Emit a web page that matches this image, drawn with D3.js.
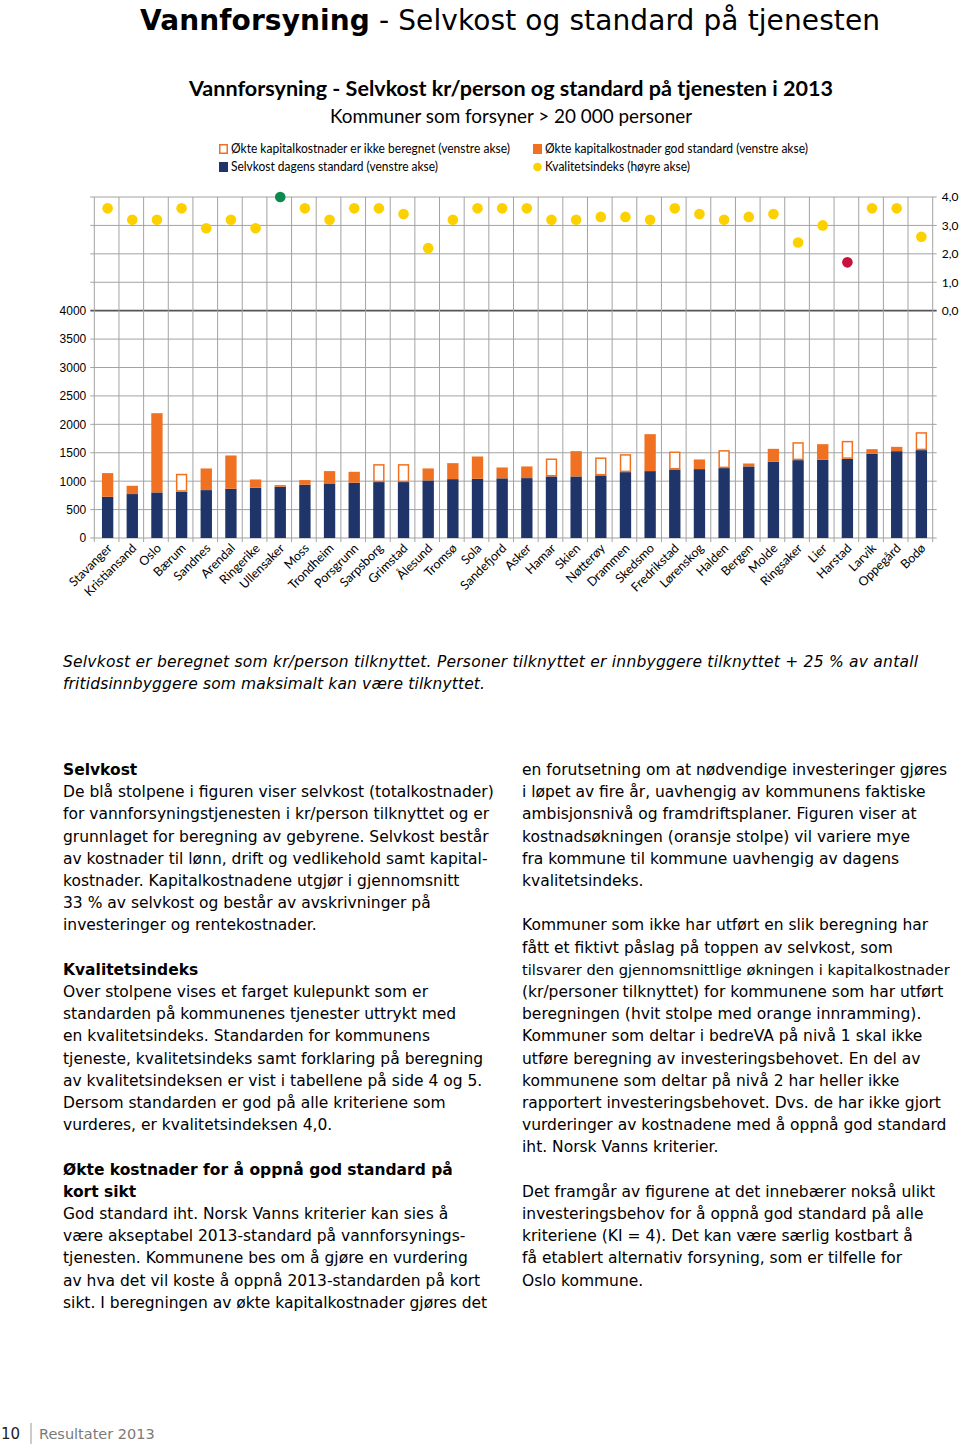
<!DOCTYPE html>
<html><head><meta charset="utf-8">
<script src="https://cdn.jsdelivr.net/npm/d3@7"></script>
<style>
body{margin:0;background:#fff;}
svg{display:block;}
</style></head><body>
<svg id="page" width="960" height="1445"></svg>
<script>
const categories = ["Stavanger","Kristiansand","Oslo","Bærum","Sandnes","Arendal","Ringerike","Ullensaker","Moss","Trondheim","Porsgrunn","Sarpsborg","Grimstad","Ålesund","Tromsø","Sola","Sandefjord","Asker","Hamar","Skien","Nøtterøy","Drammen","Skedsmo","Fredrikstad","Lørenskog","Halden","Bergen","Molde","Ringsaker","Lier","Harstad","Larvik","Oppegård","Bodø"];
const selvkost = [726,773,802,814,843,867,884,902,937,960,972,984,984,1013,1036,1042,1050,1054,1083,1083,1101,1159,1177,1206,1212,1230,1259,1341,1370,1376,1393,1481,1528,1546];
const okteGod = [416,146,1394,0,381,585,146,29,82,217,193,0,0,211,281,392,191,205,0,445,0,0,650,0,170,0,52,228,0,275,0,82,76,0];
const okteIkkeBeregnet = [0,0,0,316,0,0,0,0,0,0,0,316,316,0,0,0,0,0,316,0,316,316,0,316,0,316,0,0,316,0,316,0,0,316];
const kvalitetsindeks = [3.6,3.2,3.2,3.6,2.9,3.2,2.9,4.0,3.6,3.2,3.6,3.6,3.4,2.2,3.2,3.6,3.6,3.6,3.2,3.2,3.3,3.3,3.2,3.6,3.4,3.2,3.3,3.4,2.4,3.0,1.7,3.6,3.6,2.6];
const leftTickLabels = [0,500,1000,1500,2000,2500,3000,3500,4000];
const rightTickLabels = [0,1,2,3,4];
const seriesKeys = ["selvkost","okteGod","okteIkkeBeregnet"];
const legendLabels = ["Økte kapitalkostnader er ikke beregnet (venstre akse)","Økte kapitalkostnader god standard (venstre akse)","Selvkost dagens standard (venstre akse)","Kvalitetsindeks (høyre akse)"];

const leftText = [
 ["b","Selvkost"],
 ["","De blå stolpene i figuren viser selvkost (totalkostnader)"],
 ["","for vannforsyningstjenesten i kr/person tilknyttet og er"],
 ["","grunnlaget for beregning av gebyrene. Selvkost består"],
 ["","av kostnader til lønn, drift og vedlikehold samt kapital-"],
 ["","kostnader. Kapitalkostnadene utgjør i gjennomsnitt"],
 ["","33 % av selvkost og består av avskrivninger på"],
 ["","investeringer og rentekostnader."],
 ["",""],
 ["b","Kvalitetsindeks"],
 ["","Over stolpene vises et farget kulepunkt som er"],
 ["","standarden på kommunenes tjenester uttrykt med"],
 ["","en kvalitetsindeks. Standarden for kommunens"],
 ["","tjeneste, kvalitetsindeks samt forklaring på beregning"],
 ["","av kvalitetsindeksen er vist i tabellene på side 4 og 5."],
 ["","Dersom standarden er god på alle kriteriene som"],
 ["","vurderes, er kvalitetsindeksen 4,0."],
 ["",""],
 ["b","Økte kostnader for å oppnå god standard på"],
 ["b","kort sikt"],
 ["","God standard iht. Norsk Vanns kriterier kan sies å"],
 ["","være akseptabel 2013-standard på  vannforsynings-"],
 ["","tjenesten. Kommunene bes om å gjøre en vurdering"],
 ["","av hva det vil koste å oppnå 2013-standarden på kort"],
 ["","sikt. I beregningen av økte kapitalkostnader gjøres det"]
];
const rightText = [
 "en forutsetning om at nødvendige investeringer gjøres",
 "i løpet av fire år, uavhengig av kommunens faktiske",
 "ambisjonsnivå og framdriftsplaner. Figuren viser at",
 "kostnadsøkningen (oransje stolpe) vil variere mye",
 "fra kommune til kommune uavhengig av dagens",
 "kvalitetsindeks.",
 "",
 "Kommuner som ikke har utført en slik beregning har",
 "fått et fiktivt påslag på toppen av selvkost, som",
 "tilsvarer den gjennomsnittlige økningen i kapitalkostnader",
 "(kr/personer tilknyttet) for kommunene som har utført",
 "beregningen (hvit stolpe med orange innramming).",
 "Kommuner som deltar i bedreVA på nivå 1 skal ikke",
 "utføre beregning av investeringsbehovet. En del av",
 "kommunene som deltar på nivå 2 har heller ikke",
 "rapportert investeringsbehovet. Dvs. de har ikke gjort",
 "vurderinger av kostnadene med å oppnå god standard",
 "iht. Norsk Vanns kriterier.",
 "",
 "Det framgår av figurene at det innebærer nokså ulikt",
 "investeringsbehov for å oppnå god standard på alle",
 "kriteriene (KI = 4). Det kan være særlig kostbart å",
 "få etablert alternativ forsyning, som er tilfelle for",
 "Oslo kommune."
];

const NAVY = "#1f3468", ORANGE = "#f07122", GRID = "#a3a3a3";
const svg = d3.select("#page");
svg.append("rect").attr("width",960).attr("height",1445).attr("fill","#fff");

// Page header
const hdr = svg.append("text").attr("x",140).attr("y",30)
  .attr("font-family","DejaVu Sans").attr("font-size",28).attr("fill","#000")
  .attr("textLength",740).attr("lengthAdjust","spacing");
hdr.append("tspan").attr("font-weight","bold").text("Vannforsyning");
hdr.append("tspan").text(" - Selvkost og standard på tjenesten");

// Chart title
svg.append("text").attr("x",511).attr("y",96).attr("text-anchor","middle")
  .attr("font-family","Lato").attr("font-weight","bold").attr("font-size",21)
  .attr("textLength",644).attr("lengthAdjust","spacingAndGlyphs")
  .text("Vannforsyning - Selvkost kr/person og standard på tjenesten i 2013");
svg.append("text").attr("x",511).attr("y",123).attr("text-anchor","middle")
  .attr("font-family","Lato").attr("font-size",19)
  .attr("textLength",362).attr("lengthAdjust","spacingAndGlyphs")
  .text("Kommuner som forsyner > 20 000 personer");

// Legend
const lg = svg.append("g").attr("font-family","Lato").attr("font-size",12.5).attr("fill","#000");
const legendItems = [
  {x:219,y:149,type:"hollow",w:279},
  {x:533,y:149,type:"filled",w:263},
  {x:219,y:167,type:"navy",w:207},
  {x:533,y:167,type:"dot",w:145}
];
legendItems.forEach((it,i)=>{
  if(it.type==="dot"){
    lg.append("circle").attr("cx",it.x+4.5).attr("cy",it.y).attr("r",4.3).attr("fill","#fdd000");
  } else if(it.type==="hollow"){
    lg.append("rect").attr("x",it.x+0.75).attr("y",it.y-4.25).attr("width",7.5).attr("height",8.5)
      .attr("fill","#fff").attr("stroke",ORANGE).attr("stroke-width",1.5);
  } else {
    lg.append("rect").attr("x",it.x).attr("y",it.y-5).attr("width",9).attr("height",10)
      .attr("fill",it.type==="filled"?ORANGE:NAVY);
  }
  lg.append("text").attr("x",it.x+12).attr("y",it.y+4.3)
    .attr("textLength",it.w).attr("lengthAdjust","spacingAndGlyphs").text(legendLabels[i]);
});

// Chart
const X0 = 94.3, X1 = 932.7, YT = 197, YB = 538;
const x = d3.scaleBand().domain(categories).range([X0,X1]).padding(0);
const yL = d3.scaleLinear().domain([0,6000]).range([YB,YT]);
const yR = d3.scaleLinear().domain([-8,4]).range([YB,YT]);

const chart = svg.append("g");
// horizontal grid
const gridVals = d3.range(0,6001,500);
chart.append("g").selectAll("line").data(gridVals).join("line")
  .attr("x1",X0-4).attr("x2",X1+4).attr("y1",d=>yL(d)).attr("y2",d=>yL(d))
  .attr("stroke",d=>d===4000?"#555":GRID).attr("stroke-width",d=>d===4000?1.8:1);
// vertical grid
const bounds = categories.map(c=>x(c)).concat([X1]);
chart.append("g").selectAll("line").data(bounds).join("line")
  .attr("x1",d=>d).attr("x2",d=>d).attr("y1",YT).attr("y2",YB+4)
  .attr("stroke",GRID).attr("stroke-width",1);

// Left axis labels
const axL = chart.append("g").attr("transform",`translate(${X0-4},0)`)
  .call(d3.axisLeft(yL).tickValues(leftTickLabels).tickSize(0).tickPadding(4).tickFormat(d3.format("d")));
axL.select(".domain").remove();
axL.selectAll("text").attr("font-family","Liberation Sans").attr("font-size",12).attr("fill","#000");
// Right axis labels
const axR = chart.append("g").attr("transform",`translate(${X1+4},0)`)
  .call(d3.axisRight(yR).tickValues(rightTickLabels).tickSize(0).tickPadding(5)
    .tickFormat(d=>d3.format(".1f")(d).replace(".",",")));
axR.select(".domain").remove();
axR.selectAll("text").attr("font-family","Lato").attr("font-size",12).attr("fill","#000");

// Bars
const rows = categories.map((c,i)=>({cat:c, selvkost:selvkost[i], okteGod:okteGod[i], okteIkkeBeregnet:okteIkkeBeregnet[i]}));
const stacked = d3.stack().keys(seriesKeys)(rows);
const bw = x.bandwidth()*0.46;
const bx = d=> x(d.data.cat)+x.bandwidth()/2 - bw/2 + 1;
chart.append("g").selectAll("rect").data(stacked[0]).join("rect")
  .attr("x",bx).attr("width",bw).attr("y",d=>yL(d[1])).attr("height",d=>yL(d[0])-yL(d[1]))
  .attr("fill",NAVY);
chart.append("g").selectAll("rect").data(stacked[1].filter(d=>d[1]>d[0])).join("rect")
  .attr("x",bx).attr("width",bw).attr("y",d=>yL(d[1])).attr("height",d=>yL(d[0])-yL(d[1]))
  .attr("fill",ORANGE);
chart.append("g").selectAll("rect").data(stacked[2].filter(d=>d[1]>d[0])).join("rect")
  .attr("x",d=>bx(d)+0.75).attr("width",bw-1.5).attr("y",d=>yL(d[1])+0.75).attr("height",d=>yL(d[0])-yL(d[1])-1.5)
  .attr("fill","#fff").attr("stroke",ORANGE).attr("stroke-width",1.5);

// Quality index dots
const dotColor = v => v>=4 ? "#0b8a4b" : (v<2 ? "#c8103c" : "#fdd000");
chart.append("g").selectAll("circle").data(categories).join("circle")
  .attr("cx",c=>x(c)+x.bandwidth()/2+1).attr("cy",(c,i)=>yR(kvalitetsindeks[i]))
  .attr("r",5.3).attr("fill",(c,i)=>dotColor(kvalitetsindeks[i]));

// Category labels
const axB = chart.append("g").attr("transform",`translate(0,${YB})`)
  .call(d3.axisBottom(x).tickSize(0).tickPadding(0));
axB.select(".domain").remove();
axB.selectAll("text").attr("font-family","Lato").attr("font-size",12.5).attr("fill","#000")
  .attr("text-anchor","end").attr("dy",0)
  .attr("transform","translate(6,11) rotate(-45)");

// Caption
const cap = svg.append("g").attr("font-family","DejaVu Sans").attr("font-style","italic").attr("font-size",15.5).attr("fill","#000");
cap.append("text").attr("x",63).attr("y",667).attr("textLength",855).attr("lengthAdjust","spacing")
  .text("Selvkost er beregnet som kr/person tilknyttet. Personer tilknyttet er innbyggere tilknyttet + 25 % av antall");
cap.append("text").attr("x",63).attr("y",689).attr("textLength",422).attr("lengthAdjust","spacing")
  .text("fritidsinnbyggere som maksimalt kan være tilknyttet.");

// Body text
const LH = 22.2, FS = 15.5;
const body = svg.append("g").attr("font-family","DejaVu Sans").attr("font-size",FS).attr("fill","#000");
leftText.forEach((l,i)=>{
  if(!l[1]) return;
  body.append("text").attr("x",63).attr("y",775+i*LH).attr("font-weight",l[0]==="b"?"bold":"normal").text(l[1]);
});
rightText.forEach((l,i)=>{
  if(!l) return;
  const t = body.append("text").attr("x",522).attr("y",775+i*LH).text(l);
  const w = t.node().getComputedTextLength();
  if(w > 428) t.attr("font-size", (FS*428/w).toFixed(2));
});

// Footer
svg.append("text").attr("x",1).attr("y",1439).attr("font-family","DejaVu Sans").attr("font-size",15).attr("fill","#222").text("10");
svg.append("line").attr("x1",31).attr("x2",31).attr("y1",1423).attr("y2",1444).attr("stroke","#999").attr("stroke-width",1);
svg.append("text").attr("x",39).attr("y",1439).attr("font-family","DejaVu Sans").attr("font-size",14.5).attr("fill","#7a7a7a").text("Resultater 2013");
</script>
</body></html>
